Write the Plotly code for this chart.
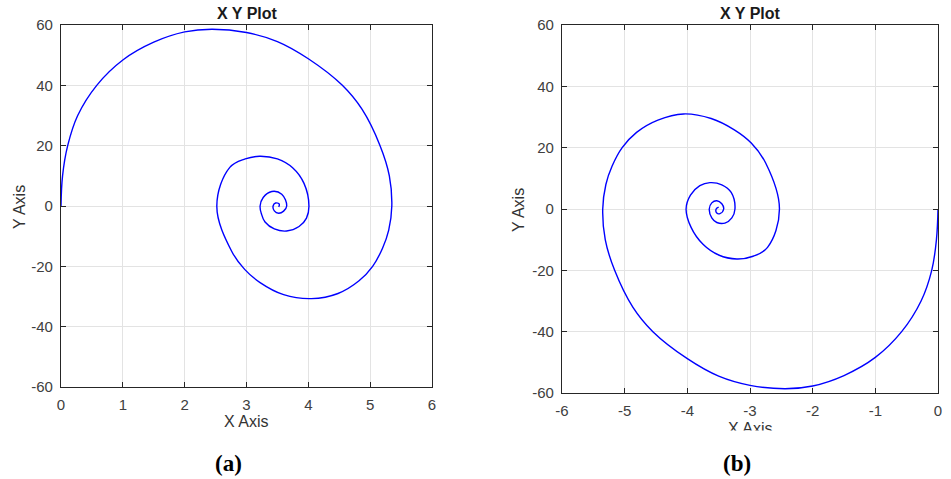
import plotly.graph_objects as go

# Spiral (a): traced points, from the start at the origin toward the centre
spiral_a_x = [0.0, 0.025, 0.108, 0.27, 0.578, 1.0, 1.5, 2.0, 2.44, 3.0, 3.5, 4.0,
              4.55, 4.87, 5.16, 5.31, 5.35, 5.30, 5.20, 5.04, 4.82, 4.48, 4.05,
              3.6, 3.22, 2.97, 2.76, 2.52, 2.73, 2.98, 3.21, 3.5, 3.75,
              3.93, 4.01, 3.97, 3.85, 3.65, 3.45, 3.30, 3.24, 3.22, 3.27, 3.41, 3.57,
              3.65, 3.60, 3.52, 3.45, 3.43, 3.47, 3.53, 3.52]
spiral_a_y = [0.0, 10.0, 20.0, 30.0, 40.0, 48.4, 54.3, 57.7, 58.6, 57.5, 54.5, 48.8,
              40.0, 32.0, 20.0, 10.0, 0.0, -8.0, -14.0, -20.0, -24.8, -29.0, -30.7,
              -29.4, -25.4, -21.0, -15.0, 0.0, 12.8, 15.6, 16.5, 15.6, 12.6,
              7.5, 0.0, -4.0, -6.8, -8.3, -7.6, -5.3, -2.5, 0.0, 2.8, 4.8, 3.9,
              0.0, -1.7, -2.4, -1.6, 0.0, 1.0, 0.6, -0.3]

# Spiral (b): traced points, from the start at the origin toward the centre
spiral_b_x = [0.0, -0.025, -0.10, -0.27, -0.58, -1.0, -1.5, -2.0, -2.44, -3.0, -3.5, -4.0,
              -4.55, -4.87, -5.16, -5.31, -5.35, -5.30, -5.20, -5.04, -4.81, -4.47, -4.06,
              -3.62, -3.25, -2.98, -2.75, -2.53, -2.72, -2.95, -3.21, -3.5,
              -3.75, -3.94, -4.02, -3.95, -3.8, -3.64, -3.45, -3.3, -3.24, -3.29, -3.40,
              -3.53, -3.61, -3.65, -3.61, -3.53, -3.45, -3.42, -3.48, -3.53, -3.54, -3.50]
spiral_b_y = [0.0, -10.0, -20.0, -30.0, -40.0, -48.4, -54.3, -57.7, -58.6, -57.5, -54.5, -48.8,
              -40.0, -32.0, -20.0, -10.0, 0.0, 8.0, 14.0, 20.0, 25.0, 29.0, 31.0,
              29.5, 25.8, 21.5, 15.0, 0.0, -12.5, -15.4, -16.3, -15.0,
              -11.5, -6.0, 0.0, 4.5, 7.6, 8.6, 7.9, 5.4, 0.0, -2.9, -4.6,
              -4.4, -2.9, 0.0, 2.0, 2.7, 1.7, 0.0, -1.5, -1.3, 0.0, 0.6]

x_ticks_a = [0, 1, 2, 3, 4, 5, 6]
x_ticks_b = [-6, -5, -4, -3, -2, -1, 0]
y_ticks = [-60, -40, -20, 0, 20, 40, 60]

W, H = 951, 479
TICK_FONT = dict(family="Liberation Sans, Arial, sans-serif", size=15, color="#404040")
LABEL_FONT = dict(family="Liberation Sans, Arial, sans-serif", size=16, color="#333333")
TITLE_FONT = dict(family="Liberation Sans, Arial, sans-serif", size=16, color="#1a1a1a")
CAPTION_FONT = dict(family="Liberation Serif, Times New Roman, serif", size=23, color="#000000")

fig = go.Figure()
fig.add_trace(go.Scatter(x=spiral_a_x, y=spiral_a_y, mode="lines",
                         line=dict(color="#0000ff", width=1.4, shape="spline", smoothing=1.1),
                         xaxis="x", yaxis="y", showlegend=False, hoverinfo="skip"))
fig.add_trace(go.Scatter(x=spiral_b_x, y=spiral_b_y, mode="lines",
                         line=dict(color="#0000ff", width=1.4, shape="spline", smoothing=1.1),
                         xaxis="x2", yaxis="y2", showlegend=False, hoverinfo="skip"))


def px_x(p):
    return p / W


def px_y(p):
    return 1 - p / H


def labels(vals):
    # plain hyphen for negative numbers
    return [str(v) for v in vals]


axis_style = dict(showline=True, linecolor="#262626", linewidth=1.2, mirror="ticks",
                  ticks="inside", ticklen=5, tickcolor="#262626", tickwidth=1,
                  showgrid=True, gridcolor="#e3e3e3", gridwidth=1, zeroline=False,
                  tickfont=TICK_FONT, fixedrange=True, automargin=False)

fig.update_layout(
    width=W, height=H,
    margin=dict(l=0, r=0, t=0, b=0),
    paper_bgcolor="white", plot_bgcolor="white",
    xaxis=dict(domain=[px_x(61), px_x(432)], range=[0, 6], tickvals=x_ticks_a,
               ticktext=labels(x_ticks_a), anchor="y", ticklabelstandoff=4, **axis_style),
    yaxis=dict(domain=[px_y(387), px_y(25)], range=[-60, 60], tickvals=y_ticks,
               ticktext=labels(y_ticks), anchor="x", ticklabelstandoff=4, **axis_style),
    xaxis2=dict(domain=[px_x(562), px_x(938)], range=[-6, 0], tickvals=x_ticks_b,
                ticktext=labels(x_ticks_b), anchor="y2", ticklabelstandoff=4, **axis_style),
    yaxis2=dict(domain=[px_y(393), px_y(25)], range=[-60, 60], tickvals=y_ticks,
                ticktext=labels(y_ticks), anchor="x2", ticklabelstandoff=4, **axis_style),
)

annotations = [
    dict(text="<b>X Y Plot</b>", x=px_x(247), y=px_y(14), font=TITLE_FONT),
    dict(text="<b>X Y Plot</b>", x=px_x(750), y=px_y(14), font=TITLE_FONT),
    dict(text="X Axis", x=px_x(246), y=px_y(421), font=LABEL_FONT),
    dict(text="X Axis", x=px_x(750), y=px_y(428), font=LABEL_FONT),
    dict(text="Y Axis", x=px_x(19), y=px_y(207), font=LABEL_FONT, textangle=-90),
    dict(text="Y Axis", x=px_x(518), y=px_y(210), font=LABEL_FONT, textangle=-90),
    # white band trimming the lower half of the right-hand x label
    dict(text="", x=px_x(750), y=px_y(441), width=120, height=20, bgcolor="white",
         borderpad=0, showarrow=False),
    dict(text="<b>(a)</b>", x=px_x(228), y=px_y(463), font=CAPTION_FONT),
    dict(text="<b>(b)</b>", x=px_x(737), y=px_y(463), font=CAPTION_FONT),
]
for a in annotations:
    a.setdefault("showarrow", False)
    a.update(xref="paper", yref="paper", xanchor="center", yanchor="middle")
fig.update_layout(annotations=annotations)

fig.write_html("out.html")
